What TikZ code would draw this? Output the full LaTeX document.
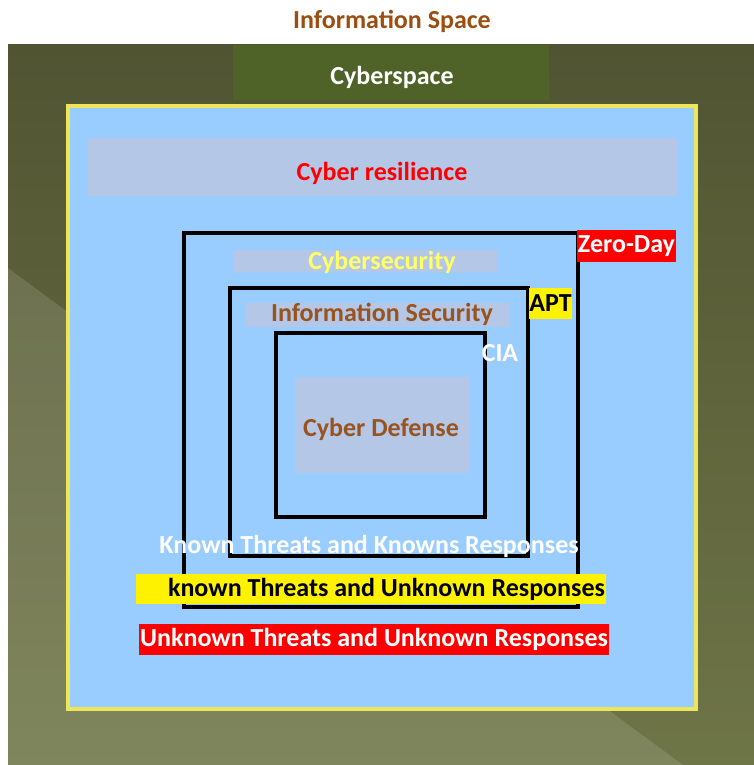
\documentclass[tikz,border=0pt]{standalone}
\usepackage{fontspec}
\setmainfont{Carlito}
\definecolor{olivetop}{HTML}{515432}
\definecolor{olivebot}{HTML}{6E7547}
\definecolor{tabgreen}{HTML}{4F6228}
\definecolor{skyblue}{HTML}{99CCFF}
\definecolor{bandblue}{HTML}{B4C7E7}
\definecolor{rimyellow}{HTML}{EDE65A}
\definecolor{titlebrown}{HTML}{9C4E10}
\definecolor{textbrown}{HTML}{99531D}
\definecolor{paleyellow}{HTML}{FFFF66}
\tikzstyle{lines}=[x=1pt, y=-1pt]
\tikzstyle{word}=[font=\fontsize{26}{30}\selectfont\bfseries, inner sep=0pt]
\tikzstyle{frame}=[draw=black, line width=4pt]
\tikzstyle{band}=[fill=bandblue]
\tikzstyle{tag}=[word, anchor=center]

\begin{document}
\begin{tikzpicture}[lines]
	% Background, frame
	\fill[white] (0,0) rectangle (754,765);
	\shade[top color=olivetop, bottom color=olivebot] (8,45) rectangle (754,765);
	\fill[white, opacity=0.12] (8,268) -- (683,765) -- (8,765) -- cycle;
	\node[word, text=titlebrown] (title) at (392,21) {Information Space};

	% Cyberspace tab
	\fill[tabgreen] (233,45) rectangle (549,100);
	\node[word, text=white] (cyberspace) at (392,77) {Cyberspace};

	% Inner box
	\draw[draw=rimyellow, line width=4pt, fill=skyblue] (68,106) rectangle (696,709);

	% % Bands
	\foreach \xa/\ya/\xb/\yb in {88/138/677/196, 233/250/497/272, 245/303/510/327, 295/377/469/473} {
		\fill[band] (\xa,\ya) rectangle (\xb,\yb);
	}

	% % Squares
	\draw[frame] (184,233) rectangle (578,607);
	\draw[frame] (230,288) rectangle (528,556);
	\draw[frame] (276,333) rectangle (485,517);

	% % Labels
	\node[word, text=red] (resilience) at (382,173) {Cyber resilience};
	\node[word, text=paleyellow] (cybersec) at (382,262) {Cybersecurity};
	\node[word, text=textbrown] (infosec) at (382,314) {Information Security};
	\node[word, text=textbrown] (defense) at (381,429) {Cyber Defense};
	\node[word, text=white] (cia) at (500,353) {CIA};
	\node[word, text=white] (known) at (369,546) {Known Threats and Knowns Responses};

	\node[tag, fill=red, text=white, minimum width=99pt, minimum height=32pt] (zeroday) at (626.5,246) {Zero-Day};
	\node[tag, fill=yellow, text=black, minimum width=43pt, minimum height=31pt] (apt) at (550.5,303.5) {APT};
	\node[tag, fill=yellow, text=black, minimum width=470pt, minimum height=30pt] (unknownyellow) at (371,589) {\phantom{Un}known Threats and Unknown Responses};
	\node[tag, fill=red, text=white, minimum width=470pt, minimum height=31pt] (unknownred) at (374,639.5) {Unknown Threats and Unknown Responses};

\end{tikzpicture}
\end{document}
